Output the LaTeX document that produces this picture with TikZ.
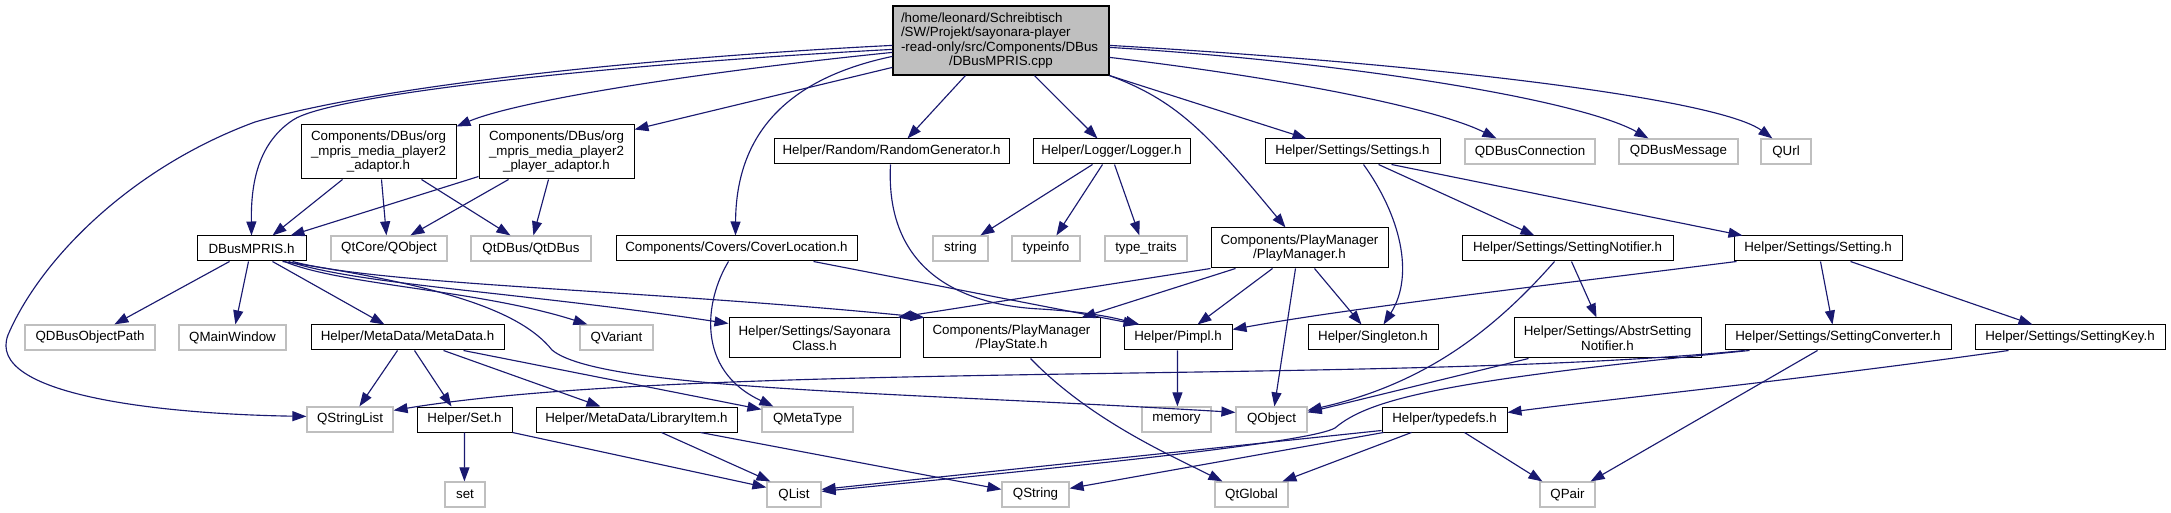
\documentclass[tikz,border=0pt]{standalone}
\usepackage{fontspec}
\setmainfont{Liberation Sans}
\usetikzlibrary{arrows.meta,calc}
\definecolor{edgeblue}{HTML}{191970}
\definecolor{extgray}{HTML}{BFBFBF}
\definecolor{mainfill}{HTML}{BFBFBF}
\newcommand{\mkbox}[7]{\node[#6, minimum width={(#4-#2)*0.75pt}, minimum height={(#5-#3)*0.75pt}] (#1) at ({(#2+#4)/2},{(#3+#5)/2}) {#7};}
\tikzset{
  every node/.style={font=\fontsize{10pt}{10.9pt}\selectfont, inner sep=0pt, align=center},
  doc/.style={draw=black, line width=0.75pt, fill=white},
  ext/.style={draw=extgray, line width=0.9pt, fill=white},
  mainbox/.style={draw=black, line width=0.9pt, fill=mainfill, text width=150pt, align=left},
  dep/.style={draw=edgeblue, line width=0.85pt, line join=round, -{Triangle[length=10.5pt,width=7.5pt]}}
}
\begin{document}
\begin{tikzpicture}[x=0.75pt,y=-0.75pt]
\fill[white] (0,0) rectangle (2171,513);
\useasboundingbox (0,0) rectangle (2171,513);
% nodes
\mkbox{main}{893}{6}{1109}{75}{mainbox}{/home/leonard/Schreibtisch\\/SW/Projekt/sayonara-player\\-read-only/src/Components/DBus\\\makebox[150pt][c]{/DBusMPRIS.cpp}}
\mkbox{dh}{197}{236}{306}{261}{doc}{DBusMPRIS.h}
\mkbox{ad}{301}{125}{456}{179}{doc}{Components/DBus/org\\\_mpris\_media\_player2\\\_adaptor.h}
\mkbox{pa}{479}{125}{634}{179}{doc}{Components/DBus/org\\\_mpris\_media\_player2\\\_player\_adaptor.h}
\mkbox{qco}{331}{236}{447}{261}{ext}{QtCore/QObject}
\mkbox{qdb}{471}{236}{591}{261}{ext}{QtDBus/QtDBus}
\mkbox{cl}{616}{236}{857}{261}{doc}{Components/Covers/CoverLocation.h}
\mkbox{rg}{774}{139}{1009}{164}{doc}{Helper/Random/RandomGenerator.h}
\mkbox{lg}{1033}{139}{1190}{164}{doc}{Helper/Logger/Logger.h}
\mkbox{ss}{1265}{139}{1440}{164}{doc}{Helper/Settings/Settings.h}
\mkbox{qdc}{1465}{139}{1595}{164}{ext}{QDBusConnection}
\mkbox{qdm}{1619}{139}{1738}{164}{ext}{QDBusMessage}
\mkbox{qu}{1761}{139}{1811}{164}{ext}{QUrl}
\mkbox{str}{933}{236}{988}{261}{ext}{string}
\mkbox{ti}{1012}{236}{1080}{261}{ext}{typeinfo}
\mkbox{tt}{1105}{236}{1187}{261}{ext}{type\_traits}
\mkbox{pm}{1211}{228}{1388}{268}{doc}{Components/PlayManager\\/PlayManager.h}
\mkbox{sn}{1462}{236}{1673}{261}{doc}{Helper/Settings/SettingNotifier.h}
\mkbox{st}{1734}{236}{1902}{261}{doc}{Helper/Settings/Setting.h}
\mkbox{qop}{25}{325}{155}{350}{ext}{QDBusObjectPath}
\mkbox{qmw}{179}{325}{286}{350}{ext}{QMainWindow}
\mkbox{md}{311}{325}{504}{350}{doc}{Helper/MetaData/MetaData.h}
\mkbox{qv}{580}{325}{653}{350}{ext}{QVariant}
\mkbox{sc}{729}{318}{900}{358}{doc}{Helper/Settings/Sayonara\\Class.h}
\mkbox{ps}{923}{318}{1100}{358}{doc}{Components/PlayManager\\/PlayState.h}
\mkbox{pi}{1124}{325}{1232}{350}{doc}{Helper/Pimpl.h}
\mkbox{sg}{1308}{325}{1438}{350}{doc}{Helper/Singleton.h}
\mkbox{asn}{1514}{318}{1701}{358}{doc}{Helper/Settings/AbstrSetting\\Notifier.h}
\mkbox{sco}{1725}{325}{1951}{350}{doc}{Helper/Settings/SettingConverter.h}
\mkbox{sk}{1975}{325}{2165}{350}{doc}{Helper/Settings/SettingKey.h}
\mkbox{qsl}{307}{407}{393}{432}{ext}{QStringList}
\mkbox{seth}{417}{407}{512}{432}{doc}{Helper/Set.h}
\mkbox{li}{536}{407}{737}{432}{doc}{Helper/MetaData/LibraryItem.h}
\mkbox{qmt}{762}{407}{853}{432}{ext}{QMetaType}
\mkbox{mem}{1142}{407}{1211}{432}{ext}{memory}
\mkbox{qo}{1236}{407}{1307}{432}{ext}{QObject}
\mkbox{td}{1382}{407}{1507}{432}{doc}{Helper/typedefs.h}
\mkbox{setn}{445}{482}{485}{507}{ext}{set}
\mkbox{ql}{767}{482}{821}{507}{ext}{QList}
\mkbox{qs}{1002}{482}{1069}{507}{ext}{QString}
\mkbox{qg}{1215}{482}{1288}{507}{ext}{QtGlobal}
\mkbox{qp}{1540}{482}{1595}{507}{ext}{QPair}
% edges from main
\draw[dep] ($(main.north west)+(0,40)$) .. controls (700,55) and (400,80) .. (255,122) .. controls (130,168) and (40,260) .. (8,335) .. controls (-15,395) and (160,414) .. ($(qsl.north west)+(0,10)$);
\draw[dep] ($(main.north west)+(0,44)$) .. controls (600,65) and (330,95) .. (293,120) .. controls (255,145) and (251,190) .. (dh.north);
\draw[dep] ($(main.north west)+(0,47)$) .. controls (700,72) and (520,100) .. ($(ad.north east)+(0,2)$);
\draw[dep] ($(main.north west)+(0,51)$) .. controls (780,80) and (736,140) .. ($(cl.north west)+(120,0)$);
\draw[dep] ($(main.north west)+(0,62)$) -- ($(pa.north east)+(0,5)$);
\draw[dep] ($(main.south west)+(73,0)$) -- ($(rg.north west)+(134,0)$);
\draw[dep] ($(main.south west)+(142,0)$) -- ($(lg.north west)+(65,0)$);
\draw[dep] (main.south east) .. controls (1175,100) and (1205,130) .. ($(pm.north west)+(75,0)$);
\draw[dep] (main.south east) -- ($(ss.north west)+(42,0)$);
\draw[dep] ($(main.north east)+(0,52)$) .. controls (1300,80) and (1440,110) .. ($(qdc.north west)+(32,0)$);
\draw[dep] ($(main.north east)+(0,42)$) .. controls (1350,62) and (1580,100) .. ($(qdm.north west)+(30,0)$);
\draw[dep] ($(main.north east)+(0,40)$) .. controls (1450,65) and (1720,100) .. ($(qu.north west)+(12,0)$);
% DBusMPRIS.h
\draw[dep] ($(dh.south west)+(33,0)$) -- ($(qop.north west)+(90,0)$);
\draw[dep] ($(dh.south west)+(52,0)$) -- ($(qmw.north west)+(57,0)$);
\draw[dep] ($(dh.south west)+(76,0)$) -- ($(md.north west)+(74,0)$);
\draw[dep] ($(dh.south west)+(88,0)$) .. controls (340,285) and (480,290) .. ($(qv.north west)+(8,0)$);
\draw[dep] ($(dh.south west)+(92,0)$) .. controls (360,285) and (520,292) .. ($(sc.north west)+(0,6)$);
\draw[dep] ($(dh.south west)+(96,0)$) .. controls (380,285) and (650,290) .. ($(ps.north west)+(2,0)$);
\draw[dep] ($(dh.south west)+(86,0)$) .. controls (440,285) and (520,310) .. (552,350) .. controls (600,390) and (900,392) .. ($(qo.north west)+(0,6)$);
% adaptors
\draw[dep] ($(ad.south west)+(42,0)$) -- ($(dh.north west)+(76,0)$);
\draw[dep] ($(ad.south west)+(81,0)$) -- ($(qco.north west)+(56,0)$);
\draw[dep] ($(ad.south west)+(121,0)$) -- ($(qdb.north west)+(40,0)$);
\draw[dep] ($(pa.north west)+(0,52)$) -- ($(dh.north west)+(94,0)$);
\draw[dep] ($(pa.south west)+(30,0)$) -- ($(qco.north west)+(80,0)$);
\draw[dep] ($(pa.south west)+(70,0)$) -- ($(qdb.north west)+(63,0)$);
% CoverLocation, RandomGenerator
\draw[dep] ($(cl.south west)+(113,0)$) .. controls (705,300) and (695,370) .. ($(qmt.north west)+(12,0)$);
\draw[dep] ($(cl.south west)+(198,0)$) -- ($(pi.north west)+(14,0)$);
\draw[dep] ($(rg.south west)+(117,0)$) .. controls (885,270) and (960,305) .. (1040,309) .. controls (1090,312) and (1115,318) .. ($(pi.north west)+(16,0)$);
% Logger
\draw[dep] ($(lg.south west)+(60,0)$) -- ($(str.north west)+(48,0)$);
\draw[dep] ($(lg.south west)+(70,0)$) -- ($(ti.north west)+(45,0)$);
\draw[dep] ($(lg.south west)+(82,0)$) -- ($(tt.north west)+(35,0)$);
% Settings
\draw[dep] ($(ss.south west)+(99,0)$) .. controls (1400,215) and (1415,275) .. ($(sg.north west)+(76,0)$);
\draw[dep] ($(ss.south west)+(114,0)$) -- ($(sn.north west)+(73,0)$);
\draw[dep] ($(ss.south west)+(127,0)$) -- ($(st.north west)+(9,0)$);
% SettingNotifier
\draw[dep] ($(sn.south west)+(110,0)$) -- ($(asn.north west)+(83,0)$);
\draw[dep] ($(sn.south west)+(93,0)$) .. controls (1490,335) and (1420,385) .. ($(qo.north east)+(0,4)$);
\draw[dep] ($(asn.south west)+(15,0)$) -- ($(qo.north east)+(0,6)$);
% Setting
\draw[dep] ($(st.south west)+(87,0)$) -- ($(sco.north west)+(108,0)$);
\draw[dep] ($(st.south west)+(117,0)$) -- ($(sk.north west)+(58,0)$);
\draw[dep] ($(st.south west)+(3,0)$) .. controls (1550,285) and (1350,308) .. ($(pi.north east)+(0,5)$);
% SettingConverter
\draw[dep] ($(sco.south west)+(20,0)$) .. controls (1400,385) and (700,360) .. ($(qsl.north east)+(0,4)$);
\draw[dep] ($(sco.south west)+(25,0)$) .. controls (1450,380) and (1370,398) .. (1335,428) .. controls (1310,442) and (1100,464) .. ($(ql.north east)+(0,10)$);
\draw[dep] ($(sco.south west)+(93,0)$) -- ($(qp.north east)+(-5,0)$);
% SettingKey
\draw[dep] ($(sk.south west)+(34,0)$) .. controls (1800,380) and (1600,400) .. ($(td.north east)+(0,6)$);
% typedefs
\draw[dep] ($(td.north west)+(0,24)$) -- ($(ql.north east)+(0,8)$);
\draw[dep] ($(td.south west)+(2,0)$) -- ($(qs.north east)+(0,7)$);
\draw[dep] ($(td.south west)+(30,0)$) -- ($(qg.north west)+(68,0)$);
\draw[dep] ($(td.south west)+(83,0)$) -- ($(qp.north west)+(3,0)$);
% LibraryItem, Set
\draw[dep] ($(li.south west)+(126,0)$) -- ($(ql.north west)+(4,0)$);
\draw[dep] ($(li.south west)+(165,0)$) -- ($(qs.north west)+(0,8)$);
\draw[dep] ($(seth.south west)+(48,0)$) -- ($(setn.north west)+(20,0)$);
\draw[dep] (seth.south east) -- ($(ql.north west)+(0,6)$);
% MetaData
\draw[dep] ($(md.south west)+(87,0)$) -- ($(qsl.north west)+(53,0)$);
\draw[dep] ($(md.south west)+(104,0)$) -- ($(seth.north west)+(35,0)$);
\draw[dep] ($(md.south west)+(133,0)$) -- ($(li.north west)+(65,0)$);
\draw[dep] ($(md.south west)+(153,0)$) -- ($(qmt.north west)+(0,3)$);
% PlayManager
\draw[dep] (pm.south west) -- ($(sc.north east)+(-3,0)$);
\draw[dep] ($(pm.south west)+(25,0)$) -- ($(ps.north east)+(-19,0)$);
\draw[dep] ($(pm.south west)+(62,0)$) -- ($(pi.north west)+(74,0)$);
\draw[dep] ($(pm.south west)+(85,0)$) -- ($(qo.north west)+(39,0)$);
\draw[dep] ($(pm.south west)+(104,0)$) -- ($(sg.north west)+(54,0)$);
% PlayState, Pimpl
\draw[dep] ($(ps.south west)+(108,0)$) .. controls (1090,420) and (1170,455) .. ($(qg.north west)+(8,0)$);
\draw[dep] ($(pi.south west)+(54,0)$) -- ($(mem.north west)+(36,0)$);
\end{tikzpicture}
\end{document}
